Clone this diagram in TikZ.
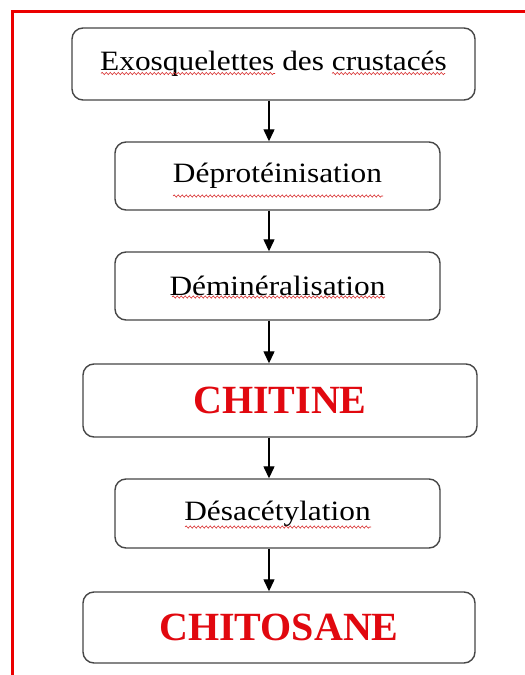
\documentclass[tikz,border=0pt]{standalone}
\usepackage{fontspec}
\setmainfont{Liberation Serif}
\newfontfamily\stepfont[FakeStretch=1.12]{Liberation Serif}
\usetikzlibrary{arrows.meta,decorations.pathmorphing}
\definecolor{frame}{RGB}{235,0,0}
\definecolor{titlered}{RGB}{225,8,15}
\definecolor{boxline}{RGB}{70,70,70}
\definecolor{squigred}{RGB}{215,40,40}
\tikzset{
  box/.style={draw=boxline,line width=1.4pt,rounded corners=11pt,fill=white,inner sep=0pt,align=center},
  stepbox/.style={box,font=\stepfont\fontsize{28}{30}\selectfont},
  titlebox/.style={box,font=\bfseries\fontsize{40}{44}\selectfont,text=titlered},
  arr/.style={line width=1.3pt,-{Triangle[width=11pt,length=12pt]}},
  squig/.style={draw=squigred,line width=0.6pt,decorate,decoration={snake,amplitude=1.1pt,segment length=4pt}},
}
\begin{document}
\begin{tikzpicture}[x=1pt,y=-1pt]
\useasboundingbox[fill=white] (0,0) rectangle (525,675);
\draw[frame,line width=3pt] (12.5,675) -- (12.5,11.5) -- (525,11.5);

\node[stepbox,minimum width=403pt,minimum height=72pt] (b1) at (273.5,64) {Exosquelettes des crustacés};
\node[stepbox,minimum width=325pt,minimum height=68pt] (b2) at (277.5,176) {Déprotéinisation};
\node[stepbox,minimum width=325pt,minimum height=68pt] (b3) at (277.5,286) {Déminéralisation};
\node[titlebox,minimum width=394pt,minimum height=73pt] (b4) at (280,400.5) {CHITINE};
\node[stepbox,minimum width=325pt,minimum height=69pt] (b5) at (277.5,513.5) {Désacétylation};
\node[titlebox,minimum width=392pt,minimum height=71pt] (b6) at (279,627.5) {CHITOSANE};

\coordinate (ax) at (269,0);
\draw[arr] (b1.south -| ax) -- (b2.north -| ax);
\draw[arr] (b2.south -| ax) -- (b3.north -| ax);
\draw[arr] (b3.south -| ax) -- (b4.north -| ax);
\draw[arr] (b4.south -| ax) -- (b5.north -| ax);
\draw[arr] (b5.south -| ax) -- (b6.north -| ax);

\draw[squig] (101,73.5) -- (275,73.5);
\draw[squig] (332,73.5) -- (445,73.5);
\draw[squig] (173,196) -- (383,196);
\draw[squig] (172,297) -- (385,297);
\draw[squig] (185,527) -- (371,527);
\end{tikzpicture}
\end{document}
